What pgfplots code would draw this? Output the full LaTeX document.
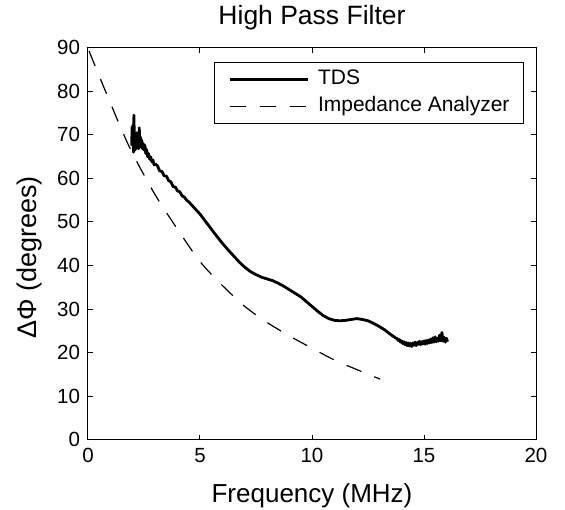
\documentclass[border=0pt]{standalone}
\usepackage{fontspec}
\setmainfont{Liberation Sans}
\usepackage{pgfplots}
\pgfplotsset{compat=1.18}

\begin{document}
\begin{tikzpicture}
\begin{axis}[
  scale only axis, width=448pt, height=392pt,
  xmin=0, xmax=20, ymin=0, ymax=90,
  xtick={0,5,10,15,20}, ytick={0,10,20,30,40,50,60,70,80,90},
  tick align=inside, major tick length=5pt,
  axis line style={line width=1pt},
  tick style={line width=1pt, black},
  /pgf/number format/assume math mode=true,
  ticklabel style={font=\fontsize{20.5}{20.5}\selectfont},
  xticklabel style={yshift=-5pt},
  yticklabel style={xshift=-4.5pt},
  title={High Pass Filter},
  title style={font=\fontsize{26.5}{26.5}\selectfont, at={(axis description cs:0.5,1)}, anchor=base, yshift=16.7pt},
  xlabel={Frequency (MHz)},
  xlabel style={font=\fontsize{26}{26}\selectfont, at={(axis description cs:0.5,0)}, anchor=base, yshift=-63pt},
  ylabel={ΔΦ (degrees)},
  ylabel style={font=\fontsize{27}{27}\selectfont, at={(axis description cs:-0.1295,0.465)}, anchor=center, rotate=0},
  legend style={at={(axis description cs:1,1)}, anchor=north east, xshift=-12pt, yshift=-14.3pt,
    draw=black, line width=1pt, inner xsep=14pt, inner ysep=7pt, row sep=7pt,
    column sep=9pt,
    font=\fontsize{21}{21}\selectfont,
    nodes={inner sep=0pt, text height=15pt, text depth=5pt}},
  legend cell align=left,
  legend image code/.code={\draw[#1] (0pt,0pt) -- (78pt,0pt);},
]
\coordinate (sw) at (axis description cs:0,0);
\coordinate (ne) at (axis description cs:1,1);

\addplot[black, line width=2.8pt, line join=round] coordinates {
(1.95,67.5) (1.97,71.8) (1.99,69.0) (2.01,72.3) (2.03,66.0) (2.05,74.5) (2.07,68.5) (2.09,70.2)
(2.11,66.5) (2.13,69.8) (2.15,67.2) (2.18,70.5) (2.20,67.0) (2.23,69.0) (2.26,66.8) (2.29,71.6)
(2.31,67.5) (2.34,69.5) (2.37,67.2) (2.40,68.8) (2.43,66.8) (2.46,68.0) (2.50,66.5) (2.54,67.6)
(2.58,65.7) (2.62,66.6) (2.66,65.0) (2.70,65.7) (2.75,64.4) (2.80,64.9) (2.85,63.8) (2.90,64.2)
(2.95,63.1) (3.0,63.3) (3.1,62.9) (3.2,61.7) (3.3,61.6) (3.4,60.6) (3.5,60.5) (3.6,59.5)
(3.7,59.2) (3.8,58.1) (3.9,58.0) (4.0,57.1) (4.1,56.9) (4.2,56.0) (4.3,55.7) (4.4,55.0)
(4.5,54.6) (4.75,53.2) (5.0,51.8) (5.25,50.1) (5.5,48.4) (5.75,46.7) (6.0,45.1) (6.25,43.6)
(6.5,42.2) (6.75,40.8) (7.0,39.6) (7.25,38.6) (7.5,37.9) (7.75,37.3) (8.0,36.9) (8.25,36.5)
(8.5,35.9) (8.75,35.2) (9.0,34.4) (9.25,33.6) (9.5,32.8) (9.75,31.7) (10.0,30.6) (10.25,29.5)
(10.5,28.5) (10.75,27.8) (11.0,27.4) (11.25,27.3) (11.5,27.4) (11.75,27.6) (12.0,27.8) (12.25,27.6)
(12.5,27.3) (12.75,26.7) (13.0,26.0) (13.25,25.2) (13.5,24.2) (13.75,23.3)
(13.8,23.2) (13.85,22.8) (13.9,23.0) (13.95,22.4) (14.0,22.7) (14.05,22.1) (14.1,22.5) (14.15,21.8)
(14.2,22.3) (14.25,21.6) (14.3,22.2) (14.35,21.5) (14.4,22.1) (14.45,21.4) (14.5,22.2) (14.55,21.7)
(14.6,22.4) (14.65,21.6) (14.7,22.3) (14.75,21.9) (14.8,22.6) (14.85,21.8) (14.9,22.5) (14.95,22.0)
(15.0,22.7) (15.05,21.9) (15.1,22.8) (15.15,22.1) (15.2,22.9) (15.25,22.2) (15.3,23.1) (15.35,22.3)
(15.4,23.4) (15.45,22.4) (15.5,23.6) (15.55,22.5) (15.6,23.3) (15.65,22.6) (15.7,24.0) (15.75,22.7)
(15.8,24.6) (15.85,22.6) (15.9,23.5) (15.95,22.4) (16.0,23.3) (16.05,22.5)
};
\addlegendentry{TDS}

\addplot[black, line width=1.2pt, dash pattern=on 16pt off 14pt, smooth] coordinates {
(0.05,89.2) (0.5,83.5) (1,77.3) (1.5,71.2) (2,65.6) (3,56.2) (4,48.3) (5,40.9)
(6,35.4) (7,30.6) (8,26.9) (9,23.8) (10,21.0) (11,18.3) (12,16.1) (13.04,13.9)
};
\addlegendentry{Impedance Analyzer}
\end{axis}
\pgfresetboundingbox
\path ([shift={(-88pt,-70pt)}]sw) rectangle ([shift={(29pt,47.7pt)}]ne);
\end{tikzpicture}
\end{document}
